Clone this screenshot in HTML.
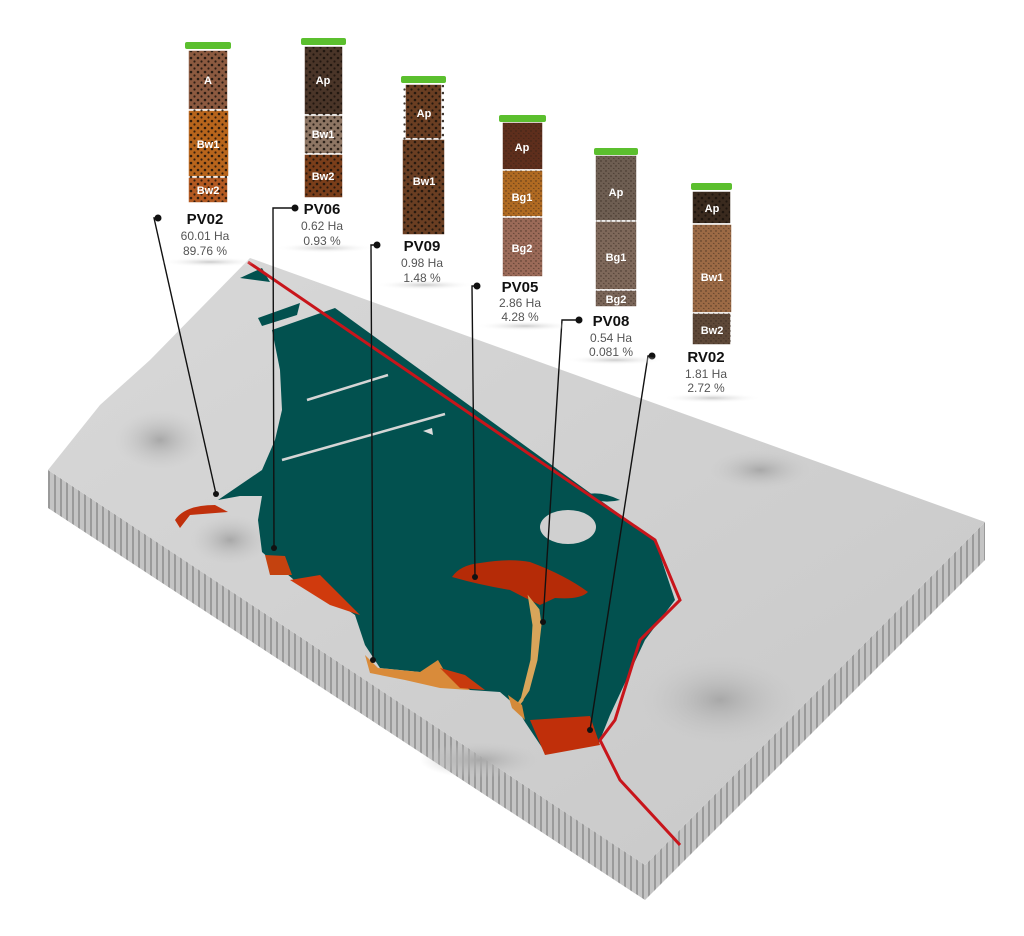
<!DOCTYPE html>
<html><head><style>
body{margin:0;background:#fff;}
svg{display:block;}
.t{font-family:"Liberation Sans",sans-serif;font-weight:bold;font-size:15px;fill:#111;text-anchor:middle;}
.v{font-family:"Liberation Sans",sans-serif;font-size:12px;fill:#555;text-anchor:middle;}
.h{font-family:"Liberation Sans",sans-serif;font-weight:bold;font-size:11px;fill:#fff;text-anchor:middle;}
</style></head><body>
<svg width="1024" height="936" viewBox="0 0 1024 936" xmlns="http://www.w3.org/2000/svg">
<defs>
<linearGradient id="top" x1="0" y1="0" x2="1" y2="1">
<stop offset="0" stop-color="#d8d8d8"/><stop offset="0.5" stop-color="#d0d0d0"/><stop offset="1" stop-color="#c8c8c8"/>
</linearGradient>
<pattern id="wall" width="6" height="10" patternUnits="userSpaceOnUse">
<rect width="6" height="10" fill="#c4c4c4"/><rect width="2" height="10" fill="#9a9a9a"/>
</pattern>
<pattern id="dots" width="7" height="7" patternUnits="userSpaceOnUse">
<circle cx="2" cy="2" r="1.3" fill="#1a120c"/><circle cx="5.5" cy="5.5" r="1.1" fill="#1a120c"/>
</pattern>
<pattern id="fine" width="5" height="5" patternUnits="userSpaceOnUse">
<circle cx="1" cy="1" r="0.7" fill="#2a1e16"/><path d="M3 3l1.5 1" stroke="#2a1e16" stroke-width="0.6"/>
</pattern>
<radialGradient id="sh" cx="0.5" cy="0.5" r="0.5">
<stop offset="0" stop-color="#ccc"/><stop offset="1" stop-color="#fff" stop-opacity="0"/>
</radialGradient>
<radialGradient id="dk" cx="0.5" cy="0.5" r="0.5">
<stop offset="0" stop-color="#a8a8a8"/><stop offset="1" stop-color="#c8c8c8" stop-opacity="0"/>
</radialGradient>
</defs>

<!-- walls -->
<polygon points="48,470 645,865 645,900 48,508" fill="url(#wall)"/>
<polygon points="645,865 985,522 985,560 645,900" fill="url(#wall)"/>
<!-- top surface -->
<polygon points="48,470 100,405 150,360 250,258 985,522 645,865" fill="url(#top)"/>
<!-- shading hints -->
<ellipse cx="160" cy="440" rx="45" ry="30" fill="url(#dk)"/>
<ellipse cx="230" cy="540" rx="40" ry="25" fill="url(#dk)"/>
<ellipse cx="720" cy="700" rx="80" ry="45" fill="url(#dk)"/>
<ellipse cx="480" cy="760" rx="60" ry="18" fill="url(#dk)"/>
<ellipse cx="760" cy="470" rx="50" ry="20" fill="url(#dk)"/>

<!-- teal region -->
<path d="M240,278 L262,268 L270,282 Z" fill="#02514f"/>
<path d="M258,318 L300,303 L297,315 L262,326 Z" fill="#02514f"/>
<path d="M272,330 L335,308 L655,540 L675,600 L645,640 L610,715 L598,745 L545,752 L525,722 L515,705 L500,692 L470,690 L445,672 L420,672 L380,668 L365,645 L355,615 L330,598 L300,585 L280,568 L262,552 L258,520 L262,496 L240,496 L218,500 L262,470 L275,440 L282,410 L280,370 Z" fill="#02514f"/>
<path d="M583,495 Q600,490 620,500 Q600,505 583,495 Z" fill="#02514f"/>
<ellipse cx="568" cy="527" rx="28" ry="17" fill="#d0d0d0"/>
<path d="M282,460 L445,414" stroke="#d5d5d5" stroke-width="2.5"/>
<path d="M307,400 L388,375" stroke="#d5d5d5" stroke-width="2.5"/>
<path d="M423,431 L432,428 L433,435 Z" fill="#ddd"/>

<!-- red/orange patches -->
<path d="M175,520 Q185,505 215,505 L228,512 L190,515 L180,528 Z" fill="#c0300c"/>
<path d="M452,577 Q460,565 480,563 Q510,558 530,562 Q565,575 588,592 Q580,600 555,598 L540,605 Q525,598 510,590 Q480,585 452,577 Z" fill="#b52b07"/>
<path d="M530,600 L538,610 L540,625 L536,660 L528,690 L518,705 L522,700 L532,660 L534,625 Z" fill="#d8a55a" stroke="#d8a55a" stroke-width="3"/>
<path d="M530,720 L590,716 L600,745 L545,755 Z" fill="#c02f0a"/>
<path d="M265,555 L285,556 L292,575 L270,575 Z" fill="#c4420f"/>
<path d="M290,580 L320,575 L345,600 L360,615 L330,605 Z" fill="#d03a0d"/>
<path d="M365,655 L378,668 L420,672 L438,660 L445,672 L470,690 L440,688 L405,680 L370,673 Z" fill="#d98b3a"/>
<path d="M440,668 L465,675 L485,690 L460,688 Z" fill="#c83a0d"/>
<path d="M508,695 L522,705 L525,720 L512,708 Z" fill="#d48a3a"/>

<!-- red boundary -->
<polyline points="248,262 655,540 680,600 640,640 615,720 600,740 620,780 680,845" fill="none" stroke="#c8151b" stroke-width="3"/>

<!-- connectors -->
<g stroke="#111" stroke-width="1.4" fill="none">
<polyline points="158,218 154,218 216,494"/>
<polyline points="295,208 273,208 274,548"/>
<polyline points="377,245 371,245 373,660"/>
<polyline points="477,286 472,286 475,577"/>
<polyline points="579,320 562,320 543,622"/>
<polyline points="652,356 648,356 590,730"/>
</g>
<g fill="#111">
<circle cx="158" cy="218" r="3.5"/><circle cx="216" cy="494" r="3"/>
<circle cx="295" cy="208" r="3.5"/><circle cx="274" cy="548" r="3"/>
<circle cx="377" cy="245" r="3.5"/><circle cx="373" cy="660" r="3"/>
<circle cx="477" cy="286" r="3.5"/><circle cx="475" cy="577" r="3"/>
<circle cx="579" cy="320" r="3.5"/><circle cx="543" cy="622" r="3"/>
<circle cx="652" cy="356" r="3.5"/><circle cx="590" cy="730" r="3"/>
</g>

<!-- label shadows -->
<g fill="url(#sh)">
<ellipse cx="210" cy="262" rx="50" ry="5"/>
<ellipse cx="325" cy="248" rx="50" ry="5"/>
<ellipse cx="425" cy="285" rx="50" ry="5"/>
<ellipse cx="525" cy="326" rx="50" ry="5"/>
<ellipse cx="615" cy="360" rx="50" ry="5"/>
<ellipse cx="712" cy="398" rx="50" ry="5"/>
</g>

<!-- labels -->
<text class="t" x="205" y="224">PV02</text><text class="v" x="205" y="240">60.01 Ha</text><text class="v" x="205" y="255">89.76 %</text>
<text class="t" x="322" y="214">PV06</text><text class="v" x="322" y="230">0.62 Ha</text><text class="v" x="322" y="245">0.93 %</text>
<text class="t" x="422" y="251">PV09</text><text class="v" x="422" y="267">0.98 Ha</text><text class="v" x="422" y="282">1.48 %</text>
<text class="t" x="520" y="292">PV05</text><text class="v" x="520" y="307">2.86 Ha</text><text class="v" x="520" y="321">4.28 %</text>
<text class="t" x="611" y="326">PV08</text><text class="v" x="611" y="342">0.54 Ha</text><text class="v" x="611" y="356">0.081 %</text>
<text class="t" x="706" y="362">RV02</text><text class="v" x="706" y="378">1.81 Ha</text><text class="v" x="706" y="392">2.72 %</text>

<!-- soil columns -->
<g stroke="#fff" stroke-width="1.5">
<rect x="188" y="50" width="40" height="60" fill="#8c5a40"/>
<rect x="188" y="110" width="41" height="67" fill="#b8651c"/>
<rect x="188" y="177" width="40" height="26" fill="#b45a22"/>
<rect x="304" y="46" width="39" height="69" fill="#4a3528"/>
<rect x="304" y="115" width="39" height="39" fill="#8e7664"/>
<rect x="304" y="154" width="39" height="44" fill="#7a3e1a"/>
<rect x="405" y="84" width="37" height="55" fill="#6a3e22"/>
<rect x="402" y="139" width="43" height="96" fill="#6a3e22"/>
<rect x="502" y="122" width="41" height="48" fill="#5e2e1c"/>
<rect x="502" y="170" width="41" height="47" fill="#b06a22"/>
<rect x="502" y="217" width="41" height="60" fill="#9b6a58"/>
<rect x="595" y="155" width="42" height="66" fill="#6e5e52"/>
<rect x="595" y="221" width="42" height="69" fill="#7e685a"/>
<rect x="595" y="290" width="42" height="17" fill="#7a6558"/>
<rect x="692" y="191" width="39" height="33" fill="#3a2a1e"/>
<rect x="692" y="224" width="40" height="89" fill="#9c6a45"/>
<rect x="692" y="313" width="39" height="32" fill="#5e4838"/>
</g>
<g fill="url(#dots)" opacity="0.85">
<rect x="189" y="51" width="38" height="151"/>
<rect x="305" y="47" width="37" height="150"/>
<rect x="403" y="85" width="41" height="149"/>
<rect x="693" y="192" width="37" height="31"/>
</g>
<g fill="url(#fine)" opacity="0.7">
<rect x="503" y="123" width="39" height="153"/>
<rect x="596" y="156" width="40" height="150"/>
<rect x="693" y="225" width="38" height="119"/>
</g>
<g fill="#5bbf2e">
<rect x="185" y="42" width="46" height="7" rx="2"/>
<rect x="301" y="38" width="45" height="7" rx="2"/>
<rect x="401" y="76" width="45" height="7" rx="2"/>
<rect x="499" y="115" width="47" height="7" rx="2"/>
<rect x="594" y="148" width="44" height="7" rx="2"/>
<rect x="691" y="183" width="41" height="7" rx="2"/>
</g>
<text class="h" x="208" y="84">A</text><text class="h" x="208" y="148">Bw1</text><text class="h" x="208" y="194">Bw2</text>
<text class="h" x="323" y="84">Ap</text><text class="h" x="323" y="138">Bw1</text><text class="h" x="323" y="180">Bw2</text>
<text class="h" x="424" y="117">Ap</text><text class="h" x="424" y="185">Bw1</text>
<text class="h" x="522" y="151">Ap</text><text class="h" x="522" y="201">Bg1</text><text class="h" x="522" y="252">Bg2</text>
<text class="h" x="616" y="196">Ap</text><text class="h" x="616" y="261">Bg1</text><text class="h" x="616" y="303">Bg2</text>
<text class="h" x="712" y="212">Ap</text><text class="h" x="712" y="281">Bw1</text><text class="h" x="712" y="334">Bw2</text>
</svg>
</body></html>
